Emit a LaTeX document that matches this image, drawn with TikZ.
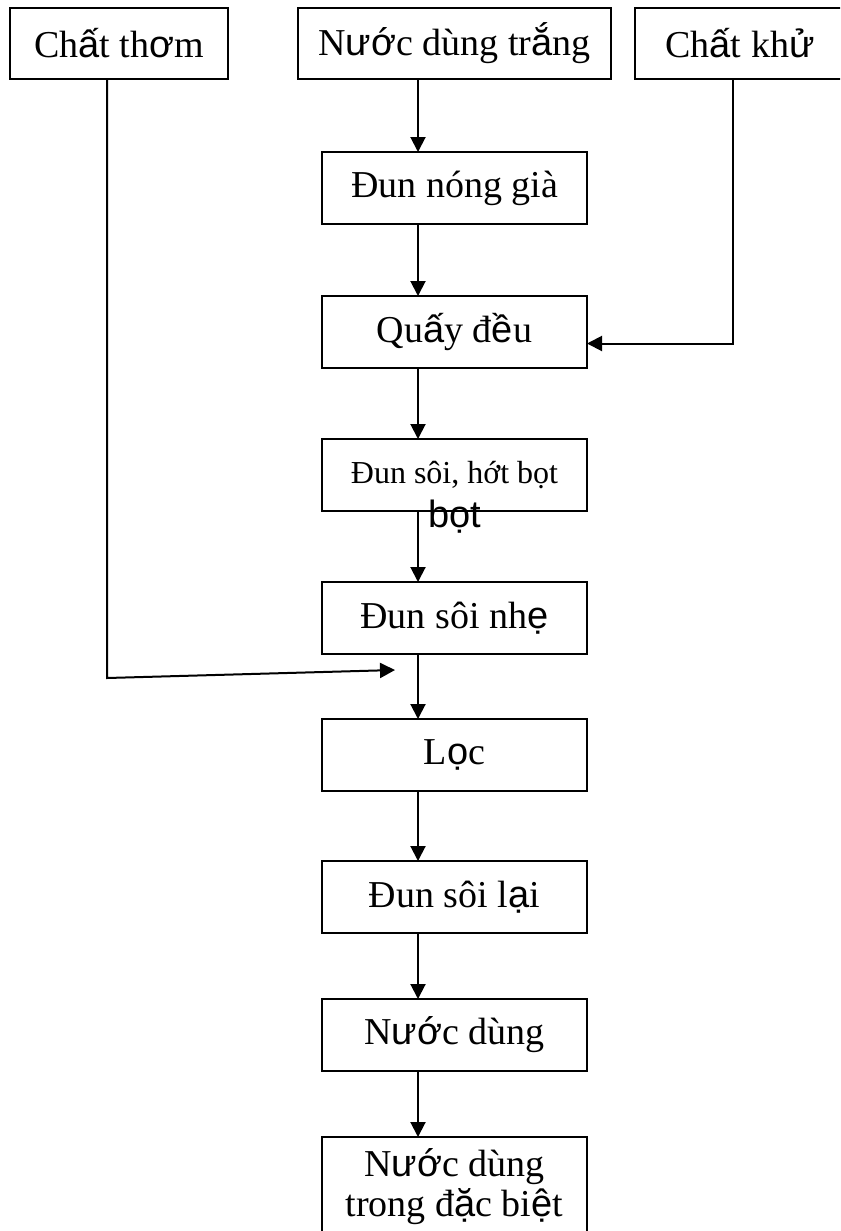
\documentclass[tikz,border=0pt]{standalone}
\usepackage{fontspec}
\setmainfont{Liberation Serif}
\newfontfamily\arialfont{Liberation Sans}
\usetikzlibrary{arrows.meta, positioning, calc}
\newcommand{\vnsans}[1]{{\arialfont #1}}

\begin{document}
\begin{tikzpicture}[
    every node/.style={font=\fontsize{11.4pt}{13pt}\selectfont},
    node distance=21pt and 21pt,
    block/.style={
        draw, line width=0.6pt, minimum height=21.6pt, align=center,
        inner sep=2pt, outer sep=0pt
    },
    input/.style={block, minimum height=21.3pt},
    proc/.style={block, minimum width=79.5pt},
    arrow/.style={-{Triangle[length=4.5pt,width=4.5pt]}, line width=0.6pt}
]
    \path[use as bounding box] (0,0) rectangle (252pt,-369.3pt);
    \clip (0,0) rectangle (252pt,-369.3pt);

    % inputs
    \node[input, minimum width=93.9pt] (stock) at (136.35pt,-13.05pt)
        {N\vnsans{ướ}c dùng tr\vnsans{ắ}ng};
    \node[input, minimum width=65.4pt, left=21pt of stock] (aroma)
        {Ch\vnsans{ấ}t th\vnsans{ơ}m};
    \node[input, minimum width=63pt, right=7.2pt of stock] (reducer)
        {Ch\vnsans{ấ}t kh\vnsans{ử}};

    % main line
    \node[proc, below=21.9pt of stock] (heat) {Đun nóng già};
    \node[proc, below=21.6pt of heat] (stir) {Qu\vnsans{ấ}y đ\vnsans{ề}u};
    \node[proc, below=21.3pt of stir, font=\fontsize{9.6pt}{12pt}\selectfont] (skim)
        {Đun sôi, hớt bọt};
    \node[anchor=base] (skim-extra) at ([yshift=-4.8pt]skim.south) {\vnsans{bọt}};
    \node[proc, below=21.3pt of skim] (simmer) {Đun sôi nh\vnsans{ẹ}};
    \node[proc, below=19.5pt of simmer] (strain) {L\vnsans{ọ}c};
    \node[proc, below=21pt of strain] (reboil) {Đun sôi l\vnsans{ạ}i};
    \node[proc, below=19.8pt of reboil] (broth) {N\vnsans{ướ}c dùng};
    \node[proc, below=19.8pt of broth, inner ysep=3.5pt,
          font=\fontsize{11.4pt}{12pt}\selectfont] (clear)
        {N\vnsans{ướ}c dùng\\trong đ\vnsans{ặ}c bi\vnsans{ệ}t};

    \foreach \a/\b in {stock/heat, heat/stir, stir/skim, skim/simmer,
                       simmer/strain, strain/reboil, reboil/broth, broth/clear}
        \draw[arrow] ([xshift=-10.95pt]\a.south) -- ([xshift=-10.95pt]\b.north);

    % side inputs
    \draw[arrow] ([xshift=-2.25pt]reducer.south) |- ([yshift=-3.45pt]stir.east);
    \coordinate (herbs-bend) at ($(aroma.south |- simmer.south)+(-3.6pt,-7.2pt)$);
    \coordinate (herbs-in) at ([shift={(-17.85pt,-4.8pt)}]simmer.south);
    \draw[arrow] ([xshift=-3.6pt]aroma.south) -- (herbs-bend) -- (herbs-in);
\end{tikzpicture}
\end{document}
